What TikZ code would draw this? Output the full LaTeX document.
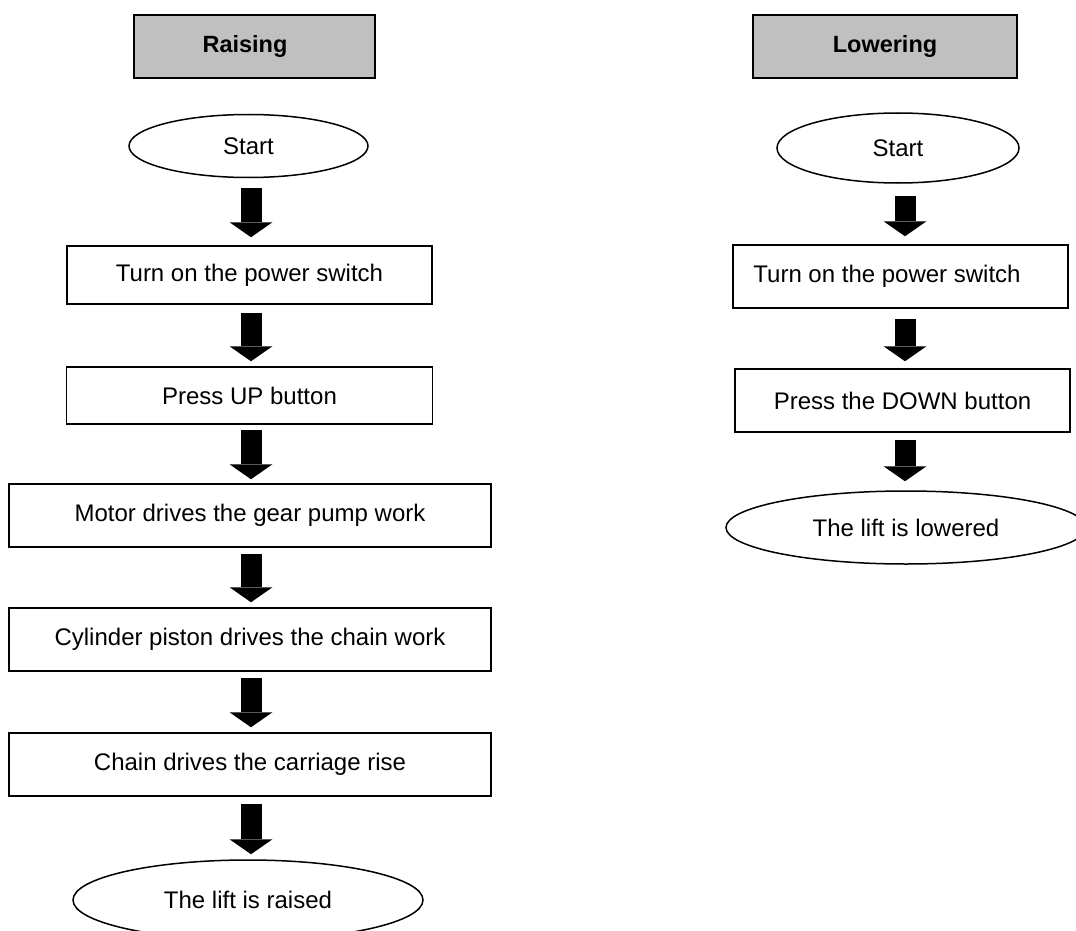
\documentclass[tikz,border=0pt]{standalone}
\usepackage{fontspec}
\setmainfont{Liberation Sans}
\usetikzlibrary{shapes.geometric,arrows.meta}
\definecolor{hdrgray}{HTML}{C0C0C0}
\begin{document}
\begin{tikzpicture}[x=1pt,y=-1pt,
  every node/.style={font=\fontsize{24}{28}\selectfont, inner sep=0pt},
  header/.style={draw, fill=hdrgray, line width=2pt, minimum height=63pt, font=\fontsize{23.5}{28}\selectfont\bfseries},
  stepbox/.style={draw, line width=1.5pt},
  termnode/.style={draw, ellipse, line width=1.5pt},
  blockarrow/.style={line width=21pt, -{Triangle[width=43pt,length=15pt,line width=0pt]}}]
\useasboundingbox (0,0) rectangle (1076,931);
\fill[white] (0,0) rectangle (1076,931);
\clip (0,0) rectangle (1076,931);
% columns for arrows
\coordinate (ax) at (251,0);
\coordinate (bx) at (905,0);
% ---------- Raising ----------
\node[header, minimum width=241pt] (hR) at (254.5,46.5) {Raising\hspace{19pt}\null};
\node[termnode, minimum width=239pt, minimum height=63pt] (s1) at (248.5,146) {Start};
\node[stepbox, minimum width=365pt, minimum height=58pt] (b1) at (249.5,275) {Turn on the power switch};
\node[stepbox, minimum width=366pt, minimum height=57pt] (b2) at (249.5,395.5) {Press UP button};
\node[stepbox, minimum width=482pt, minimum height=63pt] (b3) at (250,515.5) {Motor drives the gear pump work};
\node[stepbox, minimum width=482pt, minimum height=63pt] (b4) at (250,639.5) {Cylinder piston drives the chain work};
\node[stepbox, minimum width=482pt, minimum height=63pt] (b5) at (250,764.5) {Chain drives the carriage rise};
\node[termnode, minimum width=350pt, minimum height=80pt] (e1) at (248,900) {The lift is raised};
\draw[blockarrow, shorten <=10pt, shorten >=8pt] (s1.south -| ax) -- (b1.north -| ax);
\draw[blockarrow, shorten <=8pt, shorten >=5pt] (b1.south -| ax) -- (b2.north -| ax);
\draw[blockarrow, shorten <=5pt, shorten >=4pt] (b2.south -| ax) -- (b3.north -| ax);
\draw[blockarrow, shorten <=6pt, shorten >=5pt] (b3.south -| ax) -- (b4.north -| ax);
\draw[blockarrow, shorten <=6pt, shorten >=5pt] (b4.south -| ax) -- (b5.north -| ax);
\draw[blockarrow, shorten <=7pt, shorten >=5pt] (b5.south -| ax) -- (e1.north -| ax);
% ---------- Lowering ----------
\node[header, minimum width=264pt] (hL) at (885,46.5) {Lowering};
\node[termnode, minimum width=242pt, minimum height=70pt] (rs) at (898,148) {Start};
\node[stepbox, minimum width=335pt, minimum height=63pt] (r1) at (900.5,276.5) {Turn on the power switch\hspace{27pt}\null};
\node[stepbox, minimum width=335pt, minimum height=63pt] (r2) at (902.5,400.5) {Press the DOWN button};
\node[termnode, minimum width=360pt, minimum height=73pt] (re) at (906,527.5) {The lift is lowered};
\draw[blockarrow, shorten <=12pt, shorten >=8pt] (rs.south -| bx) -- (r1.north -| bx);
\draw[blockarrow, shorten <=10pt, shorten >=7pt] (r1.south -| bx) -- (r2.north -| bx);
\draw[blockarrow, shorten <=7pt, shorten >=9pt] (r2.south -| bx) -- (re.north -| bx);
\end{tikzpicture}
\end{document}
